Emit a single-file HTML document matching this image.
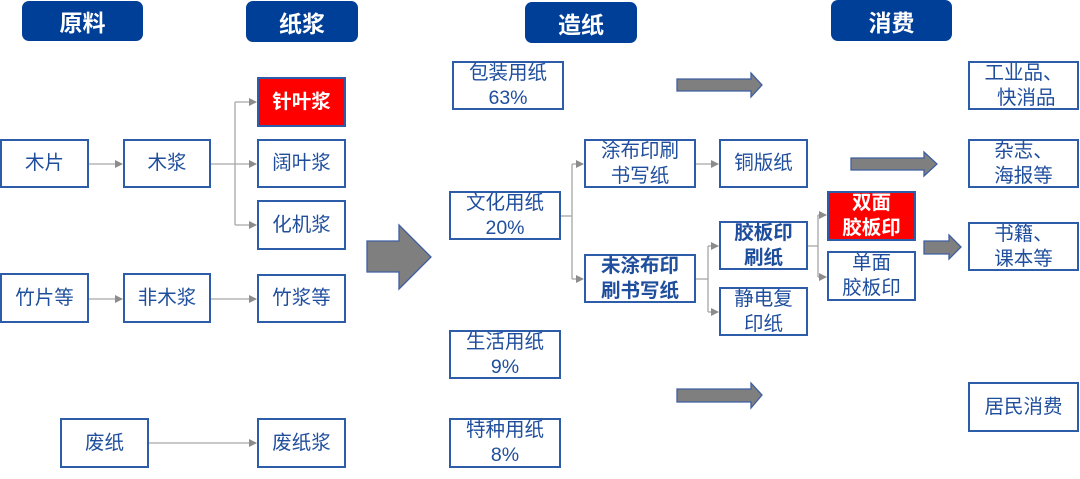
<!DOCTYPE html>
<html><head><meta charset="utf-8">
<style>
html,body{margin:0;padding:0;background:#fff;}
body{width:1080px;height:479px;position:relative;overflow:hidden;font-family:"Liberation Sans","Noto Sans CJK SC",sans-serif;}
.h{position:absolute;background:#003f98;color:#fff;border-radius:7px;font-weight:bold;font-size:23px;display:flex;align-items:center;justify-content:center;}
.b{position:absolute;box-sizing:border-box;border:2px solid #2d5ca8;background:#fff;color:#1f4e9d;font-size:19.5px;line-height:25px;display:flex;align-items:center;justify-content:center;text-align:center;}
.r{background:#ff0000;color:#fff;font-weight:bold;}
.bd{font-weight:bold;}
svg{position:absolute;left:0;top:0;}
</style></head><body>
<svg width="1080" height="479" viewBox="0 0 1080 479">
<defs>
<marker id="a" markerWidth="8" markerHeight="8" refX="7" refY="4" orient="auto" markerUnits="userSpaceOnUse">
<path d="M0,0 L8,4 L0,8 z" fill="#8c8c8c"/>
</marker>
</defs>
<g stroke="#a6a6a6" stroke-width="1.3" fill="none">
<line x1="89" y1="164" x2="122" y2="164" marker-end="url(#a)"/>
<line x1="211" y1="164" x2="235" y2="164"/>
<line x1="235" y1="102" x2="235" y2="225"/>
<line x1="235" y1="102" x2="256" y2="102" marker-end="url(#a)"/>
<line x1="235" y1="164" x2="256" y2="164" marker-end="url(#a)"/>
<line x1="235" y1="225" x2="256" y2="225" marker-end="url(#a)"/>
<line x1="89" y1="299" x2="122" y2="299" marker-end="url(#a)"/>
<line x1="211" y1="299" x2="256" y2="299" marker-end="url(#a)"/>
<line x1="149" y1="443" x2="256" y2="443" marker-end="url(#a)"/>
<line x1="561" y1="216" x2="572" y2="216"/>
<line x1="572" y1="164" x2="572" y2="279"/>
<line x1="572" y1="164" x2="583" y2="164" marker-end="url(#a)"/>
<line x1="572" y1="279" x2="583" y2="279" marker-end="url(#a)"/>
<line x1="696" y1="164" x2="718" y2="164" marker-end="url(#a)"/>
<line x1="696" y1="279" x2="708" y2="279"/>
<line x1="708" y1="246" x2="708" y2="312"/>
<line x1="708" y1="246" x2="718" y2="246" marker-end="url(#a)"/>
<line x1="708" y1="312" x2="718" y2="312" marker-end="url(#a)"/>
<line x1="808" y1="246" x2="818" y2="246"/>
<line x1="818" y1="215" x2="818" y2="277"/>
<line x1="818" y1="215" x2="826" y2="215" marker-end="url(#a)"/>
<line x1="818" y1="277" x2="826" y2="277" marker-end="url(#a)"/>
</g>
<g fill="#7f7f7f" stroke="#3f5f9f" stroke-width="1.3">
<path d="M367,241 L399,241 L399,225 L431,257 L399,289 L399,272 L367,272 Z"/>
<path d="M677,79 L751,79 L751,73 L762,85 L751,97 L751,91 L677,91 Z"/>
<path d="M851,158 L924,158 L924,152 L937,164 L924,176 L924,170 L851,170 Z"/>
<path d="M924,241 L949,241 L949,235 L961,247 L949,259 L949,254 L924,254 Z"/>
<path d="M677,389 L751,389 L751,383 L762,395 L751,408 L751,402 L677,402 Z"/>
</g>
</svg>

<div class="h" style="left:22px;top:1px;width:121px;height:40px;">原料</div>
<div class="h" style="left:246px;top:1px;width:112px;height:41px;">纸浆</div>
<div class="h" style="left:525px;top:2px;width:112px;height:41px;">造纸</div>
<div class="h" style="left:831px;top:0px;width:121px;height:41px;">消费</div>

<div class="b" style="left:0px;top:139px;width:89px;height:49px;">木片</div>
<div class="b" style="left:123px;top:139px;width:88px;height:49px;">木浆</div>
<div class="b r" style="left:257px;top:77px;width:89px;height:50px;">针叶浆</div>
<div class="b" style="left:257px;top:139px;width:89px;height:49px;">阔叶浆</div>
<div class="b" style="left:257px;top:200px;width:89px;height:50px;">化机浆</div>
<div class="b" style="left:0px;top:273px;width:89px;height:50px;">竹片等</div>
<div class="b" style="left:123px;top:273px;width:88px;height:50px;">非木浆</div>
<div class="b" style="left:257px;top:274px;width:89px;height:49px;">竹浆等</div>
<div class="b" style="left:60px;top:418px;width:89px;height:50px;">废纸</div>
<div class="b" style="left:257px;top:418px;width:89px;height:50px;">废纸浆</div>

<div class="b" style="left:452px;top:61px;width:112px;height:49px;">包装用纸<br>63%</div>
<div class="b" style="left:449px;top:191px;width:112px;height:49px;">文化用纸<br>20%</div>
<div class="b" style="left:449px;top:330px;width:112px;height:49px;">生活用纸<br>9%</div>
<div class="b" style="left:449px;top:418px;width:112px;height:50px;">特种用纸<br>8%</div>

<div class="b" style="left:584px;top:139px;width:112px;height:49px;">涂布印刷<br>书写纸</div>
<div class="b bd" style="left:584px;top:254px;width:112px;height:49px;">未涂布印<br>刷书写纸</div>
<div class="b" style="left:719px;top:139px;width:89px;height:49px;">铜版纸</div>
<div class="b bd" style="left:719px;top:221px;width:89px;height:49px;">胶板印<br>刷纸</div>
<div class="b" style="left:719px;top:287px;width:89px;height:49px;">静电复<br>印纸</div>
<div class="b r" style="left:827px;top:191px;width:89px;height:50px;">双面<br>胶板印</div>
<div class="b" style="left:827px;top:251px;width:89px;height:50px;">单面<br>胶板印</div>

<div class="b" style="left:968px;top:61px;width:111px;height:49px;">工业品、<br>&nbsp;快消品</div>
<div class="b" style="left:968px;top:139px;width:111px;height:49px;">杂志、<br>海报等</div>
<div class="b" style="left:968px;top:222px;width:111px;height:49px;">书籍、<br>课本等</div>
<div class="b" style="left:968px;top:382px;width:111px;height:50px;">居民消费</div>
</body></html>
